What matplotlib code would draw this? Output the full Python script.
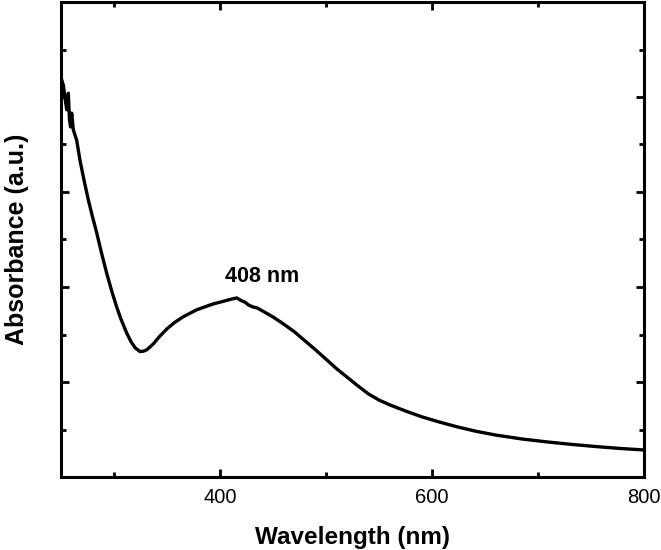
import matplotlib
matplotlib.use("Agg")
import matplotlib.pyplot as plt
from matplotlib.ticker import MultipleLocator, NullFormatter

plt.rcParams['font.family'] = ['Liberation Sans', 'DejaVu Sans']

wavelength = [250.7, 252.2, 253.8, 255.4, 256.9, 258.0, 259.0, 260.1, 261.6, 264.8,
              267.9, 271.8, 275.8, 279.7, 283.7, 288.4, 293.1, 297.8, 302.5, 307.0,
              312.0, 316.0, 320.0, 324.5, 328.0, 331.0, 337.0, 343.0, 350.0, 357.0,
              365.0, 378.0, 393.0, 405.0, 410.0, 415.8, 419.5, 423.6, 427.0, 431.1,
              435.0, 440.6, 450.0, 460.0, 470.0, 480.0, 490.0, 500.0, 510.0, 520.0,
              530.0, 540.0, 550.0, 560.0, 575.0, 590.0, 605.0, 623.0, 642.0, 661.0,
              685.0, 708.0, 730.0, 755.0, 778.0, 799.5]
absorbance = [0.836, 0.825, 0.798, 0.773, 0.808, 0.752, 0.737, 0.766, 0.731, 0.709,
              0.667, 0.624, 0.583, 0.548, 0.514, 0.470, 0.429, 0.392, 0.358, 0.330,
              0.303, 0.285, 0.272, 0.264, 0.265, 0.268, 0.280, 0.296, 0.312, 0.325,
              0.337, 0.352, 0.364, 0.371, 0.374, 0.377, 0.372, 0.368, 0.362, 0.358,
              0.356, 0.349, 0.337, 0.322, 0.306, 0.287, 0.268, 0.248, 0.228, 0.210,
              0.192, 0.175, 0.162, 0.152, 0.139, 0.127, 0.117, 0.106, 0.096, 0.088,
              0.080, 0.074, 0.069, 0.064, 0.060, 0.057]

peak_label = "408 nm"
peak_label_pos = (440, 0.423)
xlabel = "Wavelength (nm)"
ylabel = "Absorbance (a.u.)"

fig = plt.figure(figsize=(6.61, 5.5), dpi=100)
ax = fig.add_axes([61/661, 73/550, (644-61)/661, (477-2)/550])

ax.plot(wavelength, absorbance, color='black', lw=2.4, solid_joinstyle='round')

ax.set_xlim(250, 800)
ax.set_ylim(0, 1.0)
ax.xaxis.set_major_locator(MultipleLocator(200))
ax.xaxis.set_minor_locator(MultipleLocator(100))
ax.yaxis.set_major_locator(MultipleLocator(0.2))
ax.yaxis.set_minor_locator(MultipleLocator(0.1))
ax.yaxis.set_major_formatter(NullFormatter())

for s in ax.spines.values():
    s.set_linewidth(2.2)

ax.tick_params(which='both', direction='in', top=True, right=True, width=2.0)
ax.tick_params(which='major', length=6, labelsize=14.5, pad=8)
ax.tick_params(which='minor', length=3.5)

ax.text(peak_label_pos[0], peak_label_pos[1], peak_label, ha='center', va='center',
        fontsize=15.5, fontweight='bold')

ax.set_xlabel(xlabel, fontsize=17.5, fontweight='bold', labelpad=13.5)
ax.set_ylabel(ylabel, fontsize=18, fontweight='bold', labelpad=15)

fig.savefig("out.png", dpi=100)
